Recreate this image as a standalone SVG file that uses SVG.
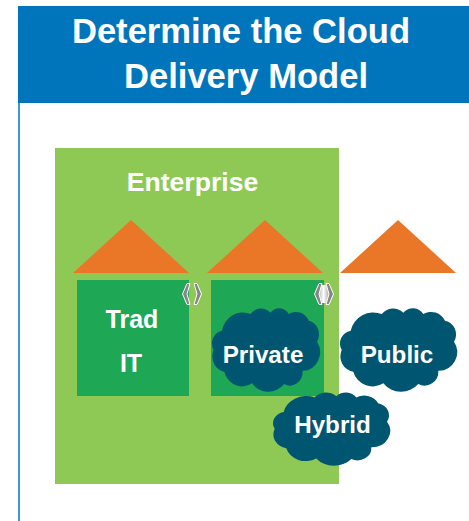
<svg xmlns="http://www.w3.org/2000/svg" width="469" height="521" viewBox="0 0 469 521">
<style>
text{font-family:"Liberation Sans",Arial,sans-serif;font-weight:700;fill:#fff;text-anchor:middle}
.t{font-size:34.600px}.e{font-size:26.600px}.l{font-size:25px}.c{font-size:24.200px}
.tri{fill:#ea7728}.box{fill:#1ea755}.cloud{fill:#005670}
.chev{fill:#858585;stroke:#fff;stroke-width:1;stroke-linejoin:miter}
</style>
<defs>
<linearGradient id="shine" x1="0" x2="1" y1="0" y2="0"><stop offset="0" stop-color="#aaa"/><stop offset=".5" stop-color="#fff"/><stop offset="1" stop-color="#aaa"/></linearGradient>
<path id="cl" d="M10.700,21.700A23,23,0,0,1,41.700,5A14.500,14.500,0,0,1,63.300,3.700A12.500,12.500,0,0,1,83.300,5A15.400,15.400,0,0,1,105,11.700A14,14,0,0,1,114,32.700A18.600,18.600,0,0,1,98.300,61.700A13.800,13.800,0,0,1,78.300,75A23,23,0,0,1,43.300,74.300A20,20,0,0,1,13.300,62.700A15.600,15.600,0,0,1,1.700,41A13,13,0,0,1,10.700,21.700Z"/>
<g id="chevs"><path class="chev" d="M5,0.500L0.500,11L5,21.500L8,21.500L5,11L8,0.500Z"/><path class="chev" d="M12,0.500L15,11L12,21.500L15,21.500L19.500,11L15,0.500Z"/></g>
</defs>
<rect width="469" height="521" fill="#fff"/>
<rect x="18" y="6" width="2" height="515" fill="#3d9ad6"/>
<g id="header"><rect x="18" y="6" width="451" height="97" fill="#0075bc"/>
<text class="t" x="241" y="43">Determine the Cloud</text>
<text class="t" x="246" y="88">Delivery Model</text></g>
<g id="enterprise"><rect x="55" y="148" width="284" height="336" fill="#8fc955"/>
<text class="e" x="192.500" y="191">Enterprise</text></g>
<g id="trad-it"><polygon class="tri" points="73,273 131,220 189,273"/><rect class="box" x="77" y="280" width="112" height="116"/>
<text class="l" x="132" y="328">Trad</text><text class="l" x="131" y="372">IT</text>
<use href="#chevs" x="182" y="283"/></g>
<g id="private-box"><polygon class="tri" points="207,273 265,220 323,273"/><rect class="box" x="211" y="280" width="113" height="116"/>
<rect x="318" y="285" width="11" height="18" fill="url(#shine)"/><use href="#chevs" x="314" y="283"/></g>
<g id="public-house"><polygon class="tri" points="340,273 398,220 456,273"/></g>
<g id="private"><use href="#cl" class="cloud" transform="translate(212 309) scale(.922 1)"/><text class="c" x="263" y="363">Private</text></g>
<g id="public"><use href="#cl" class="cloud" transform="translate(340 309)"/><text class="c" x="397" y="363">Public</text></g>
<g id="hybrid"><use href="#cl" class="cloud" transform="translate(273 393) scale(1 .88)"/><text class="c" x="332.500" y="433">Hybrid</text></g>
<g id="connectors"/>
</svg>
